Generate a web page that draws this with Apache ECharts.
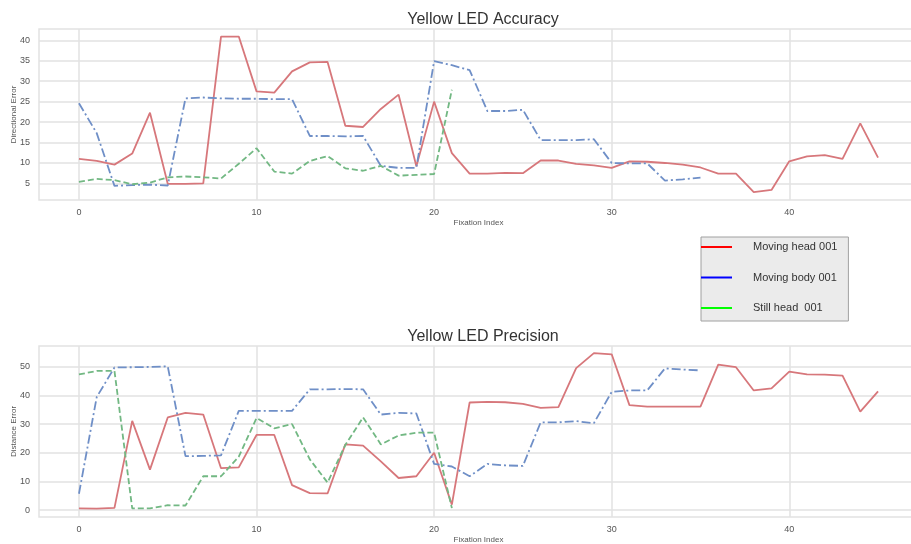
<!DOCTYPE html>
<html>
<head>
<meta charset="utf-8">
<script src="https://cdn.jsdelivr.net/npm/echarts@6/dist/echarts.min.js"></script>
<style>
  html, body { margin: 0; padding: 0; background: #fff; }
  #chart { width: 911px; height: 544px; }
</style>
</head>
<body>
<div id="chart"></div>
<script>
  // accuracy (directional error)
  var accHead = [11.0, 10.5, 9.6, 12.3, 22.3, 4.9, 4.9, 5.0, 40.9, 40.9,
    27.5, 27.2, 32.4, 34.6, 34.7, 19.1, 18.8, 23.2, 26.7, 9.2,
    25.0, 12.4, 7.4, 7.4, 7.6, 7.5, 10.6, 10.6, 9.8, 9.4,
    8.8, 10.4, 10.3, 10.0, 9.6, 8.9, 7.4, 7.4, 2.9, 3.4,
    10.4, 11.6, 11.9, 11.0, 19.7, 11.3];
  var accBody = [24.6, 17.3, 4.4, 4.6, 4.7, 4.5, 25.8, 26.0, 25.8, 25.7,
    25.7, 25.6, 25.6, 16.6, 16.6, 16.5, 16.6, 9.3, 8.8, 8.8,
    34.9, 33.9, 32.7, 22.7, 22.7, 23.0, 15.6, 15.6, 15.6, 15.8,
    10.0, 9.9, 9.9, 5.7, 6.0, 6.4];
  var accStill = [5.4, 6.1, 5.8, 4.8, 5.2, 6.5, 6.7, 6.5, 6.2, 9.8,
    13.6, 7.9, 7.4, 10.5, 11.7, 8.7, 8.1, 9.3, 6.9, 7.1,
    7.3, 27.9];

  // precision (distance error)
  var preHead = [0.6, 0.5, 0.8, 31.1, 14.1, 32.3, 33.9, 33.3, 14.6, 14.9,
    26.2, 26.2, 8.7, 5.9, 5.8, 22.9, 22.5, 17.0, 11.2, 11.8,
    20.0, 1.9, 37.5, 37.7, 37.6, 37.0, 35.6, 35.9, 49.5, 54.7,
    54.3, 36.6, 36.1, 36.1, 36.1, 36.1, 50.7, 49.8, 41.7, 42.4,
    48.3, 47.3, 47.2, 46.9, 34.3, 41.4];
  var preBody = [5.7, 39.4, 49.7, 49.8, 49.9, 50.1, 18.8, 18.9, 19.1, 34.6,
    34.6, 34.6, 34.6, 42.1, 42.1, 42.2, 42.1, 33.3, 33.9, 33.7,
    16.1, 15.2, 11.8, 16.1, 15.6, 15.4, 30.6, 30.6, 31.0, 30.3,
    41.2, 41.7, 41.7, 49.4, 49.0, 48.7];
  var preStill = [47.3, 48.5, 48.5, 0.6, 0.6, 1.7, 1.6, 11.8, 11.8, 18.6,
    32.1, 28.5, 30.0, 17.7, 9.6, 22.7, 32.3, 22.9, 26.0, 27.0,
    27.0, 0.7];

  var xTicks = [0, 10, 20, 30, 40];
  var accTicks = [5, 10, 15, 20, 25, 30, 35, 40];
  var preTicks = [0, 10, 20, 30, 40, 50];

  var seriesNames = ['Moving head 001', 'Moving body 001', 'Still head  001'];

  function toPoints(arr) {
    return arr.map(function (v, i) { return [i, v]; });
  }

  var font = 'Liberation Sans, Arial, sans-serif';

  function xAxisFor(gridIndex) {
    return {
      type: 'value',
      gridIndex: gridIndex,
      min: -2.25,
      max: 47.25,
      name: 'Fixation Index',
      nameLocation: 'middle',
      nameGap: 19,
      nameMoveOverlap: false,
      nameTextStyle: { fontSize: 8, color: '#555', fontFamily: font },
      axisLine: { show: false },
      axisTick: { show: false, customValues: xTicks },
      axisLabel: { customValues: xTicks, fontSize: 9, color: '#555', margin: 8, fontFamily: font },
      splitLine: { show: true, lineStyle: { color: '#e2e2e2', width: 1.5 } }
    };
  }

  function yAxisFor(gridIndex, name, min, max, ticks) {
    return {
      type: 'value',
      gridIndex: gridIndex,
      min: min,
      max: max,
      name: name,
      nameLocation: 'middle',
      nameGap: 21,
      nameMoveOverlap: false,
      nameTextStyle: { fontSize: 8, color: '#555', fontFamily: font },
      axisLine: { show: false },
      axisTick: { show: false, customValues: ticks },
      axisLabel: { customValues: ticks, fontSize: 9, color: '#555', margin: 9, fontFamily: font },
      splitLine: { show: true, lineStyle: { color: '#e2e2e2', width: 1.5 } }
    };
  }

  function lineSeries(name, idx, arr, color, dash) {
    return {
      name: name,
      type: 'line',
      xAxisIndex: idx,
      yAxisIndex: idx,
      data: toPoints(arr),
      showSymbol: false,
      symbol: 'none',
      animation: false,
      lineStyle: { color: color, width: 1.8, type: dash },
      itemStyle: { color: color }
    };
  }

  var red = '#d7777b';
  var blue = '#6f8fc7';
  var green = '#72b883';

  var myChart = echarts.init(document.getElementById('chart'));
  var option = {
    backgroundColor: '#fff',
    animation: false,
    title: [
      { text: 'Yellow LED Accuracy', left: 478, top: 7, textAlign: 'center',
        textStyle: { fontSize: 16, fontWeight: 'normal', color: '#333', fontFamily: font } },
      { text: 'Yellow LED Precision', left: 478, top: 324, textAlign: 'center',
        textStyle: { fontSize: 16, fontWeight: 'normal', color: '#333', fontFamily: font } }
    ],
    legend: {
      orient: 'vertical',
      left: 701,
      top: 237,
      padding: [3, 11, 6, 0],
      itemGap: 16.5,
      itemWidth: 31,
      itemHeight: 2,
      icon: 'rect',
      backgroundColor: '#ebebeb',
      borderColor: '#a0a0a0',
      borderWidth: 1,
      textStyle: { fontSize: 11, color: '#333', lineHeight: 14, padding: [0, 0, 0, 16], fontFamily: font },
      data: [
        { name: seriesNames[0], itemStyle: { color: '#ff0000' } },
        { name: seriesNames[1], itemStyle: { color: '#0000ff' } },
        { name: seriesNames[2], itemStyle: { color: '#00ff00' } }
      ]
    },
    grid: [
      { left: 39, top: 29, width: 879, height: 171, outerBoundsMode: 'none', containLabel: false,
        show: true, borderColor: '#e2e2e2', borderWidth: 1.5, backgroundColor: 'transparent' },
      { left: 39, top: 346, width: 879, height: 171, outerBoundsMode: 'none', containLabel: false,
        show: true, borderColor: '#e2e2e2', borderWidth: 1.5, backgroundColor: 'transparent' }
    ],
    xAxis: [xAxisFor(0), xAxisFor(1)],
    yAxis: [
      yAxisFor(0, 'Directional Error', 0.95, 42.75, accTicks),
      yAxisFor(1, 'Distance Error', -2.4, 57.2, preTicks)
    ],
    series: [
      lineSeries(seriesNames[0], 0, accHead, red, 'solid'),
      lineSeries(seriesNames[1], 0, accBody, blue, [9, 3, 2, 3]),
      lineSeries(seriesNames[2], 0, accStill, green, [6, 3]),
      lineSeries(seriesNames[0], 1, preHead, red, 'solid'),
      lineSeries(seriesNames[1], 1, preBody, blue, [9, 3, 2, 3]),
      lineSeries(seriesNames[2], 1, preStill, green, [6, 3])
    ]
  };
  myChart.setOption(option, true);
</script>
</body>
</html>
